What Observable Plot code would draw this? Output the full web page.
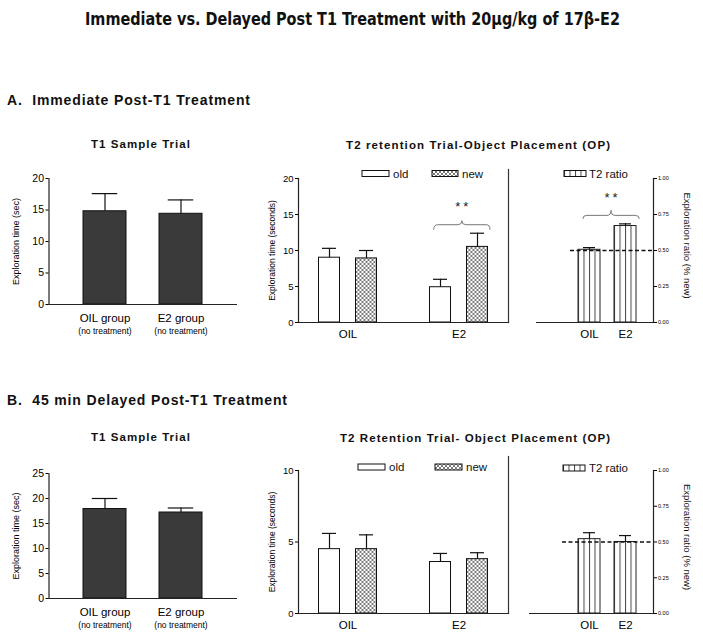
<!DOCTYPE html>
<html><head><meta charset="utf-8">
<script src="https://cdn.jsdelivr.net/npm/d3@7"></script>
<script src="https://cdn.jsdelivr.net/npm/@observablehq/plot@0.6"></script>
<style>
html,body{margin:0;padding:0;background:#fff;}
#fig{position:relative;width:703px;height:640px;overflow:hidden;background:#fff;font-family:"Liberation Sans",Arial,sans-serif;}
#fig > div{position:absolute;}
</style></head><body>
<svg width="0" height="0" style="position:absolute"><defs>
<pattern id="xhatch" width="4" height="4" patternUnits="userSpaceOnUse"><rect width="4" height="4" fill="#fff"/><path d="M0,0L4,4M4,0L0,4" stroke="#444" stroke-width="0.7"/></pattern>
<pattern id="vstripe" patternUnits="objectBoundingBox" patternContentUnits="objectBoundingBox" width="0.25" height="1"><rect width="0.25" height="1" fill="#fff"/><rect width="0.045" height="1" fill="#444"/></pattern>
</defs></svg>
<div id="fig"></div>
<script>
// ---------- data ----------
const t1Groups = ["OIL group", "E2 group"];
const t1Note = "(no treatment)";
const t1A = [14.8, 14.4], t1AErr = [2.8, 2.2];
const t1B = [17.9, 17.2], t1BErr = [2.1, 0.9];
const t2Groups = ["OIL", "E2"];
const t2Objects = ["old", "new"];
const t2AOld = [9.0, 4.9], t2AOldErr = [1.3, 1.1];
const t2ANew = [8.9, 10.5], t2ANewErr = [1.1, 1.9];
const t2BOld = [4.5, 3.6], t2BOldErr = [1.1, 0.6];
const t2BNew = [4.5, 3.8], t2BNewErr = [1.0, 0.45];
const ratioGroups = ["OIL", "E2"];
const ratioA = [0.505, 0.67], ratioAErr = [0.015, 0.015];
const ratioB = [0.52, 0.50], ratioBErr = [0.045, 0.045];
const chance = 0.5;
const t1ATicks = [0, 5, 10, 15, 20], t1BTicks = [0, 5, 10, 15, 20, 25];
const t2ATicks = [0, 5, 10, 15, 20], t2BTicks = [0, 5, 10];
const ratioTicks = [0, 0.25, 0.5, 0.75, 1];
const sigAT2 = {group: "E2", from: "old", to: "new", label: "**"};
const sigARatio = {from: "OIL", to: "E2", label: "**"};

// ---------- helpers ----------
const FONT = "'Liberation Sans', Arial, Helvetica, sans-serif";
const baseStyle = {background: "transparent", overflow: "visible", fontFamily: FONT, color: "black", maxWidth: "none"};
const fig = document.getElementById("fig");
function place(node, left, top) {
  const d = document.createElement("div");
  d.style.left = left + "px"; d.style.top = top + "px";
  d.appendChild(node); fig.appendChild(d);
}
// significance brace drawn through the plot's own x / y scales
function braceMark(spec, tops, st) {
  const row = {...spec, top: d3.max(tops)};
  return Plot.dot([row], {
    ...(spec.group ? {fx: "group"} : {}),
    x: "from", y: "top", r: 0,
    render(index, scales) {
      const g = d3.create("svg:g");
      if (!index.length) return g.node();
      const x = scales.x, y = scales.y;
      const bw = x.bandwidth ? x.bandwidth() : 0;
      const x1 = x(row.from) + bw * st.l, x2 = x(row.to) + bw * st.r, xm = (x1 + x2) / 2;
      const yb = y(row.top) - st.gap, h = st.hook, p = st.peak;
      g.append("path").attr("fill", "none").attr("stroke", "#777").attr("stroke-width", 1)
        .attr("d", `M${x1},${yb}Q${x1},${yb-h} ${x1+4},${yb-h}L${xm-4},${yb-h}Q${xm},${yb-h} ${xm},${yb-h-p}Q${xm},${yb-h} ${xm+4},${yb-h}L${x2-4},${yb-h}Q${x2},${yb-h} ${x2},${yb}`);
      g.append("text").attr("x", xm + 1.5).attr("y", yb - h - p - st.textGap)
        .attr("text-anchor", "middle").attr("font-size", 13).attr("letter-spacing", 3)
        .attr("font-family", FONT).attr("fill", "#222").text(row.label);
      return g.node();
    }
  });
}

// ---------- T1 sample trial ----------
function t1Plot(means, errs, ticks, top, marginBottom) {
  const rows = t1Groups.map((g, i) => ({group: g, mean: means[i], top: means[i] + errs[i]}));
  place(Plot.plot({
    width: 240, height: 172, marginTop: 10, marginBottom, marginLeft: 48.5, marginRight: 3,
    style: baseStyle,
    x: {domain: t1Groups, paddingInner: 0.44, paddingOuter: 0.447},
    y: {domain: [0, d3.max(ticks)]},
    marks: [
      Plot.barY(rows, {x: "group", y: "mean", fill: "#3a3a3a", stroke: "#111", strokeWidth: 1}),
      Plot.ruleX(rows, {x: "group", y1: "mean", y2: "top", stroke: "#111", strokeWidth: 1.2}),
      Plot.tickY(rows, {x: "group", y: "top", insetLeft: 8.75, insetRight: 8.75, stroke: "#111", strokeWidth: 1.2}),
      Plot.ruleY([0], {stroke: "#222", strokeWidth: 1.2}),
      Plot.frame({anchor: "left", stroke: "#222", strokeWidth: 1.2}),
      Plot.axisY({ticks, tickSize: 3, tickPadding: 2, fontSize: 10.5, label: null}),
      Plot.axisY({ticks: [], tickSize: 0, label: "Exploration time (sec)", labelAnchor: "center", labelArrow: "none", labelOffset: 36, fontSize: 9}),
      Plot.axisX({tickSize: 0, tickPadding: 9, fontSize: 11.5, label: null}),
      Plot.text(t1Groups, {x: d => d, frameAnchor: "bottom", dy: 29, text: () => t1Note, fontSize: 8.5})
    ]
  }), 0, top);
}

// ---------- T2 old/new ----------
function t2Plot(old, oldErr, nw, nwErr, ticks, sig, L) {
  const rows = t2Groups.flatMap((g, i) => [
    {group: g, object: "old", mean: old[i], top: old[i] + oldErr[i]},
    {group: g, object: "new", mean: nw[i], top: nw[i] + nwErr[i]}
  ]);
  const marks = [
    Plot.barY(rows.filter(d => d.object === "old"), {fx: "group", x: "object", y: "mean", fill: "white", stroke: "#111", strokeWidth: 1}),
    Plot.barY(rows.filter(d => d.object === "new"), {fx: "group", x: "object", y: "mean", fill: "url(#xhatch)", stroke: "#111", strokeWidth: 1}),
    Plot.ruleX(rows, {fx: "group", x: "object", y1: "mean", y2: "top", stroke: "#111", strokeWidth: 1.2}),
    Plot.tickY(rows, {fx: "group", x: "object", y: "top", insetLeft: 3.5, insetRight: 3.5, stroke: "#111", strokeWidth: 1.2}),
    Plot.frame({anchor: "bottom", facet: "super", stroke: "#222", strokeWidth: 1.2}),
    Plot.frame({anchor: "left", facet: "super", stroke: "#222", strokeWidth: 1.2}),
    Plot.frame({anchor: "right", facet: "super", insetTop: L.sepTop, stroke: "#333", strokeWidth: 1.2}),
    Plot.axisY({ticks, tickSize: 3, tickPadding: 2, fontSize: 9.5, label: null}),
    Plot.axisY({ticks: [], tickSize: 0, label: "Exploration time (seconds)", labelAnchor: "center", labelArrow: "none", labelOffset: 30, fontSize: 8.5}),
    Plot.axisFx({anchor: "bottom", tickSize: 0, tickPadding: 7, fontSize: 11.5, label: null})
  ];
  if (sig) {
    const tops = rows.filter(d => d.group === sig.group).map(d => d.top);
    marks.push(braceMark(sig, tops, {l: 0.2, r: 1.12, gap: 3, hook: 5, peak: 4, textGap: 10}));
  }
  place(Plot.plot({
    width: L.width, height: 184, marginTop: 10, marginBottom: L.mb, marginLeft: 57.5, marginRight: 0,
    style: baseStyle,
    fx: {domain: t2Groups, range: [57.5, 269.5], paddingInner: 0.107, paddingOuter: 0},
    x: {domain: t2Objects, paddingInner: 0.4267, paddingOuter: 0.5467, axis: null},
    y: {domain: [0, d3.max(ticks)]},
    marks
  }), 240, L.top);
}

// ---------- T2 ratio ----------
function ratioPlot(vals, errs, sig, L) {
  const rows = ratioGroups.map((g, i) => ({group: g, mean: vals[i], top: vals[i] + errs[i]}));
  const marks = [
    Plot.barY(rows, {x: "group", y: "mean", fill: "url(#vstripe)", stroke: "#222", strokeWidth: 1}),
    Plot.ruleY([chance], {insetLeft: L.dashInset, stroke: "#111", strokeWidth: 1.7, strokeDasharray: "4,2.5"}),
    Plot.ruleX(rows, {x: "group", y1: "mean", y2: "top", stroke: "#111", strokeWidth: 1.2}),
    Plot.tickY(rows, {x: "group", y: "top", insetLeft: 5, insetRight: 5, stroke: "#111", strokeWidth: 1.2}),
    Plot.ruleY([0], {stroke: "#222", strokeWidth: 1.2}),
    Plot.frame({anchor: "right", stroke: "#222", strokeWidth: 1.2}),
    Plot.axisY({anchor: "right", ticks: ratioTicks, tickFormat: d3.format(".2f"), tickSize: 3, tickPadding: 1.5, fontSize: 5.5, label: null}),
    Plot.axisX({tickSize: 0, tickPadding: 7, fontSize: 11.5, label: null})
  ];
  if (sig) marks.push(braceMark(sig, rows.map(d => d.top), {l: 0.22, r: 1.15, gap: 4.5, hook: 3.5, peak: 5, textGap: 8}));
  place(Plot.plot({
    width: L.width, height: 184, marginTop: 10, marginBottom: L.mb, marginLeft: 0, marginRight: 50,
    style: baseStyle,
    x: {domain: ratioGroups, range: [L.x0, L.x0 + 59], paddingInner: 0.384, paddingOuter: 0},
    y: {domain: [0, 1]},
    marks
  }), L.left, L.top);
}

t1Plot(t1A, t1AErr, t1ATicks, 168, 36);
t1Plot(t1B, t1BErr, t1BTicks, 463, 37);
t2Plot(t2AOld, t2AOldErr, t2ANew, t2ANewErr, t2ATicks, sigAT2, {width: 296, top: 168, mb: 30, sepTop: -9});
t2Plot(t2BOld, t2BOldErr, t2BNew, t2BNewErr, t2BTicks, null, {width: 289, top: 460, mb: 31, sepTop: -14});
ratioPlot(ratioA, ratioAErr, sigARatio, {left: 536, width: 167, top: 168, mb: 30, x0: 42, dashInset: 34});
ratioPlot(ratioB, ratioBErr, null, {left: 529, width: 174, top: 460, mb: 31, x0: 49, dashInset: 33});

// ---------- titles, legends, side labels ----------
const NS = "http://www.w3.org/2000/svg";
const ov = document.createElementNS(NS, "svg");
ov.setAttribute("width", 703); ov.setAttribute("height", 640);
ov.style.cssText = "position:absolute;left:0;top:0;overflow:visible;pointer-events:none";
fig.appendChild(ov);
function txt(s, x, y, o = {}) {
  const t = document.createElementNS(NS, "text");
  t.setAttribute("x", x); t.setAttribute("y", y);
  t.setAttribute("font-family", o.family || FONT);
  t.setAttribute("font-size", o.size || 12);
  if (o.weight) t.setAttribute("font-weight", o.weight);
  if (o.len) { t.setAttribute("textLength", o.len); t.setAttribute("lengthAdjust", o.adjust || "spacing"); }
  if (o.anchor) t.setAttribute("text-anchor", o.anchor);
  if (o.transform) t.setAttribute("transform", o.transform);
  t.setAttribute("fill", "#111");
  t.textContent = s; ov.appendChild(t); return t;
}
function swatch(x, y, w, fill) {
  const r = document.createElementNS(NS, "rect");
  r.setAttribute("x", x); r.setAttribute("y", y); r.setAttribute("width", w); r.setAttribute("height", 6);
  r.setAttribute("fill", fill); r.setAttribute("stroke", "#111"); r.setAttribute("stroke-width", 1);
  ov.appendChild(r);
}
txt("Immediate vs. Delayed Post T1 Treatment with 20\u00b5g/kg of 17\u03b2-E2", 85, 25,
  {size: 17, weight: "bold", family: "'Liberation Sans Narrow', 'DejaVu Sans Condensed', " + FONT, len: 535, adjust: "spacingAndGlyphs"});
txt("A.\u00a0 Immediate Post-T1 Treatment", 7, 105, {size: 14, weight: "bold", len: 243});
txt("T1 Sample Trial", 91, 148, {size: 11.5, weight: "bold", len: 99});
txt("T2 retention Trial-Object Placement (OP)", 346, 149, {size: 11.5, weight: "bold", len: 264});
txt("B.\u00a0 45 min Delayed Post-T1 Treatment", 7, 405, {size: 14, weight: "bold", len: 280});
txt("T1 Sample Trial", 91, 441, {size: 11.5, weight: "bold", len: 99});
txt("T2 Retention Trial- Object Placement (OP)", 340, 442, {size: 11.5, weight: "bold", len: 270});
// legends
swatch(362, 170.5, 27, "white"); txt("old", 393, 177.5, {size: 11.5});
swatch(432, 170.5, 26, "url(#xhatch)"); txt("new", 462, 177.5, {size: 11.5});
swatch(564, 170.5, 22, "url(#vstripe)"); txt("T2 ratio", 589, 177.5, {size: 11.5});
swatch(358, 464, 27, "white"); txt("old", 389, 471, {size: 11.5});
swatch(435, 464, 27, "url(#xhatch)"); txt("new", 466, 471, {size: 11.5});
swatch(563, 465, 22, "url(#vstripe)"); txt("T2 ratio", 589, 472, {size: 11.5});
// right axis labels
txt("Exploration ratio (% new)", 0, 0, {size: 9.5, anchor: "middle", transform: "translate(684,245.5) rotate(90)"});
txt("Exploration ratio (% new)", 0, 0, {size: 9.5, anchor: "middle", transform: "translate(684,537) rotate(90)"});
</script>
</body></html>
